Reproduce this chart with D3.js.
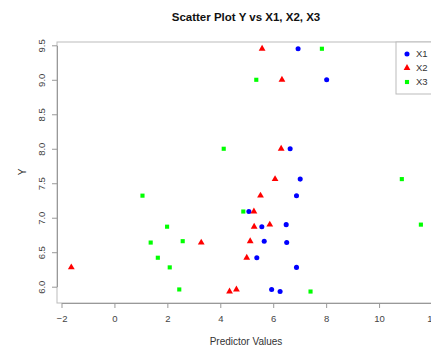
<!DOCTYPE html>
<html><head><meta charset="utf-8">
<script src="https://cdn.jsdelivr.net/npm/d3@7"></script>
<style>body{margin:0;background:#fff}svg{display:block;font-family:"Liberation Sans",Arial,sans-serif}</style>
</head><body><svg id="c" width="431" height="347"></svg>
<script>
const yVals = [9.45, 9.0, 8.0, 7.56, 7.32, 7.09, 6.87, 6.90, 6.66, 6.64, 6.42, 6.28, 5.96, 5.93];
const x1Vals = [6.94, 8.02, 6.64, 7.02, 6.88, 5.08, 5.57, 6.49, 5.66, 6.51, 5.38, 6.88, 5.94, 6.26];
const x2Vals = [5.58, 6.33, 6.30, 6.07, 5.52, 5.27, 5.28, 5.87, 5.13, 3.28, 5.00, -1.63, 4.61, 4.35];
const x3Vals = [7.84, 5.36, 4.13, 10.86, 1.06, 4.87, 1.99, 11.58, 2.58, 1.37, 1.64, 2.09, 2.45, 7.41];
const seriesNames = ["X1", "X2", "X3"];
const seriesColors = ["#0000ff", "#ff0000", "#00ff00"];
const xTicks = [-2, 0, 2, 4, 6, 8, 10, 12];
const yTicks = [6.0, 6.5, 7.0, 7.5, 8.0, 8.5, 9.0, 9.5];

(function () {
const svg = d3.select("#c");
const pLeft = 57, pTop = 42, pBottom = 303;
const x = d3.scaleLinear().domain([-2, 12]).range([61.5, 432]);
const y = d3.scaleLinear().domain([6, 9.5]).range([286.7, 45.3]);
const pRight = x(12.12);

// box
svg.append("rect").attr("x", pLeft).attr("y", pTop).attr("width", pRight - pLeft).attr("height", pBottom - pTop)
  .attr("fill", "none").attr("stroke", "#bbb").attr("stroke-width", 1);

// x axis
const gx = svg.append("g").attr("transform", `translate(0,${pBottom})`)
  .call(d3.axisBottom(x).tickValues(xTicks).tickSizeInner(5).tickSizeOuter(0).tickPadding(7).tickFormat(d3.format("d")));
gx.select(".domain").attr("stroke", "#999");
gx.selectAll(".tick line").attr("stroke", "#999");
gx.selectAll("text").attr("fill", "#444").style("font-size", "9.5px");

// y axis
const gy = svg.append("g").attr("transform", `translate(${pLeft},0)`)
  .call(d3.axisLeft(y).tickValues(yTicks).tickSizeInner(5).tickSizeOuter(0).tickFormat(d3.format(".1f")));
gy.select(".domain").attr("stroke", "#999");
gy.selectAll(".tick line").attr("stroke", "#999");
gy.selectAll("text").attr("fill", "#444").style("font-size", "9.5px")
  .attr("text-anchor", "middle").attr("x", null).attr("dy", null)
  .attr("transform", "translate(-15,0) rotate(-90)").attr("dominant-baseline", "middle");

// titles
svg.append("text").attr("x", 246).attr("y", 21).attr("text-anchor", "middle")
  .style("font-size", "11.5px").style("font-weight", "bold").attr("fill", "#111").text("Scatter Plot Y vs X1, X2, X3");
svg.append("text").attr("x", 246).attr("y", 345).attr("text-anchor", "middle")
  .style("font-size", "10px").attr("fill", "#333").text("Predictor Values");
svg.append("text").attr("transform", "translate(26,172) rotate(-90)").attr("text-anchor", "middle")
  .style("font-size", "10px").attr("fill", "#333").text("Y");

const symbols = [d3.symbolCircle, d3.symbolTriangle, d3.symbolSquare];
const symSizes = [20, 20, 17];
const xs = [x1Vals, x2Vals, x3Vals];

xs.forEach((arr, s) => {
  svg.append("g").selectAll("path").data(arr.map((v, i) => [v, yVals[i]])).join("path")
    .attr("d", d3.symbol().type(symbols[s]).size(symSizes[s]))
    .attr("transform", d => `translate(${x(d[0])},${y(d[1])})`)
    .attr("fill", seriesColors[s]);
});

// legend
const lg = svg.append("g");
lg.append("rect").attr("x", 396).attr("y", pTop).attr("width", pRight - 396).attr("height", 52)
  .attr("fill", "#fff").attr("stroke", "#bbb");
seriesNames.forEach((n, i) => {
  const ly = 54 + i * 14;
  lg.append("path").attr("d", d3.symbol().type(symbols[i]).size(symSizes[i])())
    .attr("transform", `translate(407,${ly})`).attr("fill", seriesColors[i]);
  lg.append("text").attr("x", 416).attr("y", ly).attr("dominant-baseline", "middle")
    .style("font-size", "9.5px").attr("fill", "#333").text(n);
});
})();
</script></body></html>
